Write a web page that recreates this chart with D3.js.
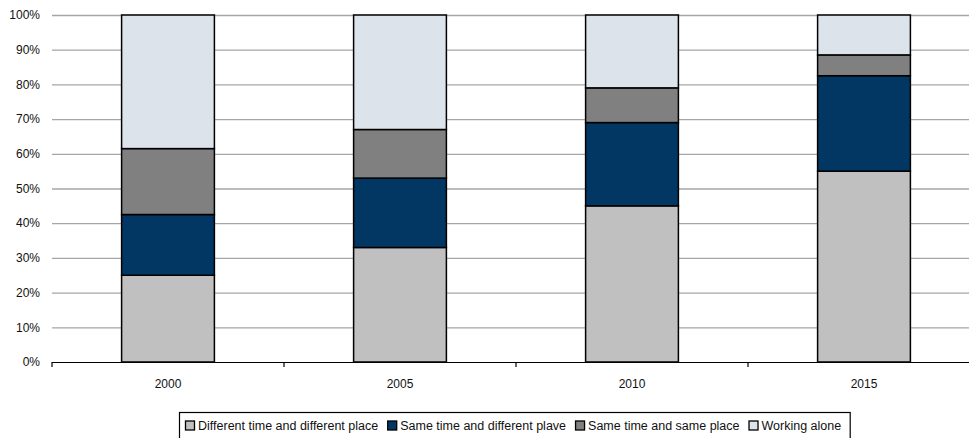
<!DOCTYPE html>
<html>
<head>
<meta charset="utf-8">
<script src="https://cdn.jsdelivr.net/npm/d3@7/dist/d3.min.js"></script>
<style>
  html, body { margin: 0; padding: 0; background: #fff; }
  svg { display: block; font-family: "Liberation Sans", Arial, sans-serif; }
</style>
</head>
<body>
<svg id="chart" width="969" height="438"></svg>
<script>
// Share of work by collaboration mode, percent of total
const years = ["2000", "2005", "2010", "2015"];
const seriesNames = [
  "Different time and different place",
  "Same time and different plave",
  "Same time and same place",
  "Working alone"
];
const differentTimeDifferentPlace = [25, 33, 45, 55];
const sameTimeDifferentPlace      = [17.5, 20, 24, 27.5];
const sameTimeSamePlace           = [19, 14, 10, 6];
const workingAlone                = [38.5, 33, 21, 11.5];
const yTicks = [0, 10, 20, 30, 40, 50, 60, 70, 80, 90, 100];

const colors = ["#c0c0c0", "#023764", "#808080", "#dce3ea"];

const table = years.map((yr, i) => ({
  year: yr,
  [seriesNames[0]]: differentTimeDifferentPlace[i],
  [seriesNames[1]]: sameTimeDifferentPlace[i],
  [seriesNames[2]]: sameTimeSamePlace[i],
  [seriesNames[3]]: workingAlone[i]
}));

const svg = d3.select("#chart");
const plotLeft = 52, plotRight = 980, plotTop = 15, plotBottom = 362;

const x = d3.scaleBand().domain(years).range([plotLeft, plotRight]).paddingInner(0.6).paddingOuter(0.3);
const y = d3.scaleLinear().domain([0, 100]).range([plotBottom, plotTop]);

// horizontal gridlines
svg.append("g")
  .selectAll("line")
  .data(yTicks.filter(t => t > 0))
  .join("line")
  .attr("x1", plotLeft).attr("x2", 969)
  .attr("y1", d => y(d) + 0.5).attr("y2", d => y(d) + 0.5)
  .attr("stroke", "#a6a6a6").attr("stroke-width", 1.3);

// y tick labels
svg.append("g")
  .selectAll("text")
  .data(yTicks)
  .join("text")
  .attr("x", 40)
  .attr("y", d => y(d))
  .attr("dy", "0.35em")
  .attr("text-anchor", "end")
  .attr("font-size", 12)
  .attr("fill", "#111")
  .text(d => d + "%");

// stacked bars
const stack = d3.stack().keys(seriesNames)(table);
svg.append("g")
  .selectAll("g")
  .data(stack)
  .join("g")
  .attr("fill", (d, i) => colors[i])
  .selectAll("rect")
  .data(d => d)
  .join("rect")
  .attr("x", d => x(d.data.year))
  .attr("width", x.bandwidth())
  .attr("y", d => y(d[1]))
  .attr("height", d => y(d[0]) - y(d[1]))
  .attr("stroke", "#000")
  .attr("stroke-width", 1.5);

// x axis line and category-boundary ticks
const step = x.step();
const firstCenter = x(years[0]) + x.bandwidth() / 2;
const boundaries = d3.range(years.length + 1).map(i => firstCenter - step / 2 + i * step);
svg.append("line")
  .attr("x1", plotLeft).attr("x2", 969)
  .attr("y1", plotBottom + 0.5).attr("y2", plotBottom + 0.5)
  .attr("stroke", "#000").attr("stroke-width", 1.2);
svg.append("g")
  .selectAll("line")
  .data(boundaries)
  .join("line")
  .attr("x1", d => d).attr("x2", d => d)
  .attr("y1", plotBottom).attr("y2", plotBottom + 5)
  .attr("stroke", "#000").attr("stroke-width", 1.2);

// x labels
svg.append("g")
  .selectAll("text")
  .data(years)
  .join("text")
  .attr("x", d => x(d) + x.bandwidth() / 2)
  .attr("y", 388)
  .attr("text-anchor", "middle")
  .attr("font-size", 12)
  .attr("fill", "#111")
  .text(d => d);

// legend
const legend = svg.append("g");
const legendBox = legend.append("rect")
  .attr("fill", "#fff").attr("stroke", "#000").attr("stroke-width", 1.2);
let cx = 185;
seriesNames.forEach((name, i) => {
  legend.append("rect")
    .attr("x", cx + 0.5).attr("y", 421)
    .attr("width", 9).attr("height", 9)
    .attr("fill", colors[i]).attr("stroke", "#000").attr("stroke-width", 1.3);
  const t = legend.append("text")
    .attr("x", cx + 13).attr("y", 430)
    .attr("font-size", 12.5)
    .attr("fill", "#111")
    .text(name);
  const w = t.node().getComputedTextLength();
  cx = cx + 13 + w + 9;
});
legendBox.attr("x", 179.5).attr("y", 412.5).attr("width", cx - 179.5).attr("height", 30);
</script>
</body>
</html>
